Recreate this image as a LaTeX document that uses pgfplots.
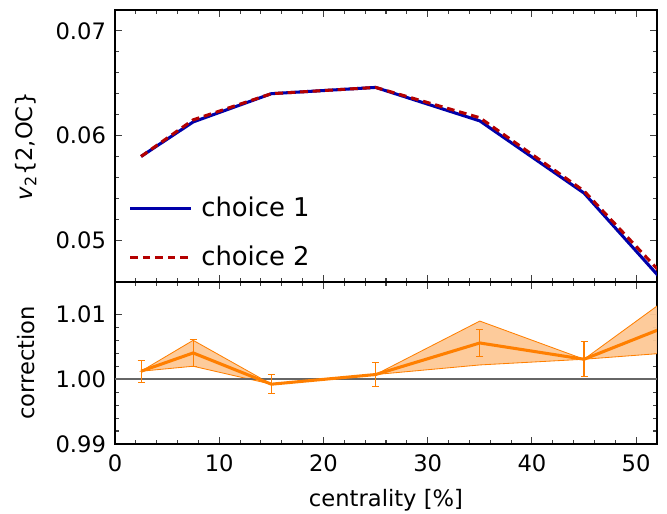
\documentclass[border=0pt]{standalone}
\usepackage{pgfplots}
\pgfplotsset{compat=1.18}
\usepackage{fontspec}
\setmainfont{DejaVu Sans}
\definecolor{c1}{RGB}{0,0,170}
\definecolor{c2}{RGB}{180,0,0}
\definecolor{oc}{RGB}{255,127,0}
\definecolor{ofill}{RGB}{253,200,150}
\begin{document}
\fontsize{16bp}{19bp}\selectfont
\begin{tikzpicture}
\pgfplotsset{
  every axis/.append style={
    scale only axis, width=390.24bp, xmin=0, xmax=52,
    tick align=inside, ticklabel pos=left,
    scaled y ticks=false, scaled x ticks=false,
    xtick={0,10,20,30,40,50}, minor x tick num=4, minor y tick num=4,
    major tick length=5bp, minor tick length=3bp,
    every tick/.style={black!75, line width=0.8bp},
    axis line style={line width=0.9bp, black},
    tick label style={font=\fontsize{16.3bp}{19bp}\selectfont},
    label style={font=\fontsize{16.3bp}{19bp}\selectfont},
    /pgf/number format/assume math mode=true,
    xtick pos=both, ytick pos=both,
  }
}
\useasboundingbox (-82.8bp,-50.4bp) rectangle (397.44bp,319.68bp);
% bottom panel
\begin{axis}[at={(0,0)}, anchor=south west, height=116.64bp,
  ymin=0.99, ymax=1.015, ytick={0.99,1.00,1.01}, yticklabels={0.99,1.00,1.01},
  xticklabels={0,10,20,30,40,50},
  xlabel={centrality [\%]}, ylabel={correction},
  ylabel style={at={(axis description cs:-0.164,0.5)}, rotate=0, anchor=center},
  yticklabel style={xshift=-1bp},
  xticklabel style={yshift=-2bp},
  xlabel style={yshift=-2bp},
  clip=true]
\addplot[draw=oc, line width=0.6bp, fill=ofill, fill opacity=0.95] coordinates {
 (2.5,1.00123) (7.5,1.0060) (15,0.99923) (25,1.00072) (35,1.00897) (45,1.00308) (55,1.0148)
 (55,1.0043) (45,1.00308) (35,1.0022) (25,1.00072) (15,0.99923) (7.5,1.0020) (2.5,1.00123)} -- cycle;
\addplot[draw=black!60, line width=1.1bp] coordinates {(0,1.0) (52,1.0)};
\addplot[draw=oc, line width=2.2bp, mark=none] coordinates {
 (2.5,1.00123) (7.5,1.00405) (15,0.99923) (25,1.00072) (35,1.00559) (45,1.00308) (55,1.00945)};
\addplot[draw=none, mark=none, error bars/.cd, y dir=both, y explicit,
  error bar style={draw=oc, line width=0.8bp},
  error mark options={rotate=90, mark size=2.5bp, draw=oc, line width=0.8bp}]
 coordinates {
 (2.5,1.00123) +- (0,0.0017)
 (7.5,1.00405) +- (0,0.0021)
 (15,0.99923) +- (0,0.0015)
 (25,1.00072) +- (0,0.0019)
 (35,1.00559) +- (0,0.0021)
 (45,1.00308) +- (0,0.0027)};
\end{axis}
% top panel
\begin{axis}[at={(0,116.64bp)}, anchor=south west, height=195.84bp,
  ymin=0.046, ymax=0.072, ytick={0.05,0.06,0.07}, yticklabels={0.05,0.06,0.07},
  xticklabels={},
  ylabel={{\itshape v}\textsubscript{2}\{2,OC\}},
  ylabel style={at={(axis description cs:-0.164,0.5)}, rotate=0, anchor=center},
  yticklabel style={xshift=-1bp},
  legend style={draw=none, fill=none, at={(axis cs:0.9,0.05465)}, anchor=north west,
    font=\fontsize{18.6bp}{22bp}\selectfont, row sep=14.3bp, column sep=4bp,
    legend cell align=left},
  legend image code/.code={\draw[#1] (0bp,0bp) -- (44bp,0bp);},
  clip=true]
\addplot[c1, line width=2.2bp] coordinates {
 (2.5,0.0580) (7.5,0.0613) (15,0.0640) (25,0.0646) (35,0.0614) (45,0.0545) (55,0.0434)};
\addlegendentry{choice 1}
\addplot[c2, line width=2.2bp, dash pattern=on 5.5bp off 3.5bp] coordinates {
 (2.5,0.0580) (7.5,0.0615) (15,0.0640) (25,0.0646) (35,0.0617) (45,0.0547) (55,0.0441)};
\addlegendentry{choice 2}
\end{axis}
\end{tikzpicture}
\end{document}
